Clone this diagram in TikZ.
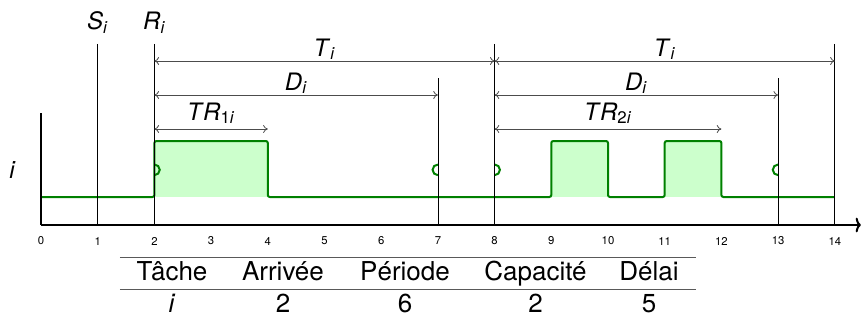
\documentclass[tikz,border=0pt]{standalone}
\usepackage{fontspec}
\setmainfont{TeX Gyre Heros}
\usetikzlibrary{arrows.meta}
\definecolor{sig}{RGB}{0,128,0}
\definecolor{sigfill}{RGB}{204,255,204}
\begin{document}
\begin{tikzpicture}[x=42.525pt,y=-0.75pt,
  sigline/.style={draw=sig,line width=1.5pt,rounded corners=1.5pt},
  pulse/.style={fill=sigfill},
  halfc/.style={draw=sig,line width=1.5pt},
  vline/.style={line width=0.6pt,black},
  dimline/.style={{To[length=3.5pt,width=6pt]}-{To[length=3.5pt,width=6pt]},line width=0.6pt,black!70},
  lab/.style={font=\fontsize{18}{20}\selectfont,anchor=base,inner sep=0pt},
  ticklab/.style={font=\fontsize{8.5}{10}\selectfont,inner sep=0pt},
  tab/.style={font=\fontsize{19.5}{22}\selectfont,anchor=base,inner sep=0pt},
  rule/.style={line width=0.75pt,black!65},
  axis/.style={line width=1.5pt,black}
]
\useasboundingbox (-0.72310,0) rectangle (14.47972,321);

% pulses fill
\fill[pulse] (2,141) rectangle (4,197);
\fill[pulse] (9,141) rectangle (10,197);
\fill[pulse] (11,141) rectangle (12,197);

% signal
\draw[sigline] (0,197) -- (2,197) -- (2,141) -- (4,141) -- (4,197) -- (9,197) -- (9,141) -- (10,141) -- (10,197) -- (11,197) -- (11,141) -- (12,141) -- (12,197) -- (14,197);

% half circles
\draw[halfc] (2,164.5) arc[start angle=90,end angle=-90,radius=4pt];
\draw[halfc] (7,164.5) arc[start angle=90,end angle=270,radius=4pt];
\draw[halfc] (8,164.5) arc[start angle=90,end angle=-90,radius=4pt];
\draw[halfc] (13,164.5) arc[start angle=90,end angle=270,radius=4pt];

% vertical lines
\draw[vline] (1,44) -- (1,225);
\draw[vline] (2,44) -- (2,225);
\draw[vline] (7,78) -- (7,225);
\draw[vline] (8,44) -- (8,225);
\draw[vline] (13,78) -- (13,225);
\draw[vline] (14,44) -- (14,225);

% axes
\coordinate (ytop) at (0,113);
\coordinate (orig) at (0,225);
\coordinate (xend) at (14.462,225);
\draw[axis] (ytop) -- (orig);
\draw[axis,-{To[length=4pt,width=11pt]}] (orig) -- (xend);

% tick labels
\foreach \k in {0,...,14} {
  \node[ticklab] (t\k) at (\k,241) {\k};
}

% dimension arrows
\coordinate (a2) at (2,61); \coordinate (a8) at (8,61); \coordinate (a14) at (14,61);
\coordinate (d2) at (2,95); \coordinate (d7) at (7,95);
\coordinate (d8) at (8,95); \coordinate (d13) at (13,95);
\coordinate (r2) at (2,129); \coordinate (r4) at (4,129);
\coordinate (r8) at (8,129); \coordinate (r12) at (12,129);
\draw[dimline] (a2) -- (a8);
\draw[dimline] (a8) -- (a14);
\draw[dimline] (d2) -- (d7);
\draw[dimline] (d8) -- (d13);
\draw[dimline] (r2) -- (r4);
\draw[dimline] (r8) -- (r12);

% labels
\node[lab] (Si) at (1,30) {\textit{S}\textsubscript{\textit{i}}};
\node[lab] (Ri) at (2,30) {\textit{R}\textsubscript{\textit{i}}};
\node[lab] (T1) at (5,56) {\textit{T}\textsubscript{\textit{i}}};
\node[lab] (T2) at (11,56) {\textit{T}\textsubscript{\textit{i}}};
\node[lab] (D1) at (4.5,90) {\textit{D}\textsubscript{\textit{i}}};
\node[lab] (D2) at (10.5,90) {\textit{D}\textsubscript{\textit{i}}};
\node[lab] (TR1) at (3,120) {\textit{T\kern1pt R}\textsubscript{1\textit{i}}};
\node[lab] (TR2) at (10,120) {\textit{T\kern1pt R}\textsubscript{2\textit{i}}};
\node[lab,anchor=center] (ilab) at (-0.503,170) {\textit{i}};

% table
\coordinate (tl) at (1.393,257); \coordinate (tr) at (11.552,257);
\coordinate (ml) at (1.393,289); \coordinate (mr) at (11.552,289);
\draw[rule] (tl) -- (tr);
\draw[rule] (ml) -- (mr);
\node[tab] (h1) at (2.310,280) {Tâche};
\node[tab] (h2) at (4.268,280) {Arrivée};
\node[tab] (h3) at (6.420,280) {Période};
\node[tab] (h4) at (8.721,280) {Capacité};
\node[tab] (h5) at (10.723,280) {Délai};
\node[tab] (v1) at (2.310,312) {\textit{i}};
\node[tab] (v2) at (4.268,312) {2};
\node[tab] (v3) at (6.420,312) {6};
\node[tab] (v4) at (8.721,312) {2};
\node[tab] (v5) at (10.723,312) {5};
\end{tikzpicture}
\end{document}
